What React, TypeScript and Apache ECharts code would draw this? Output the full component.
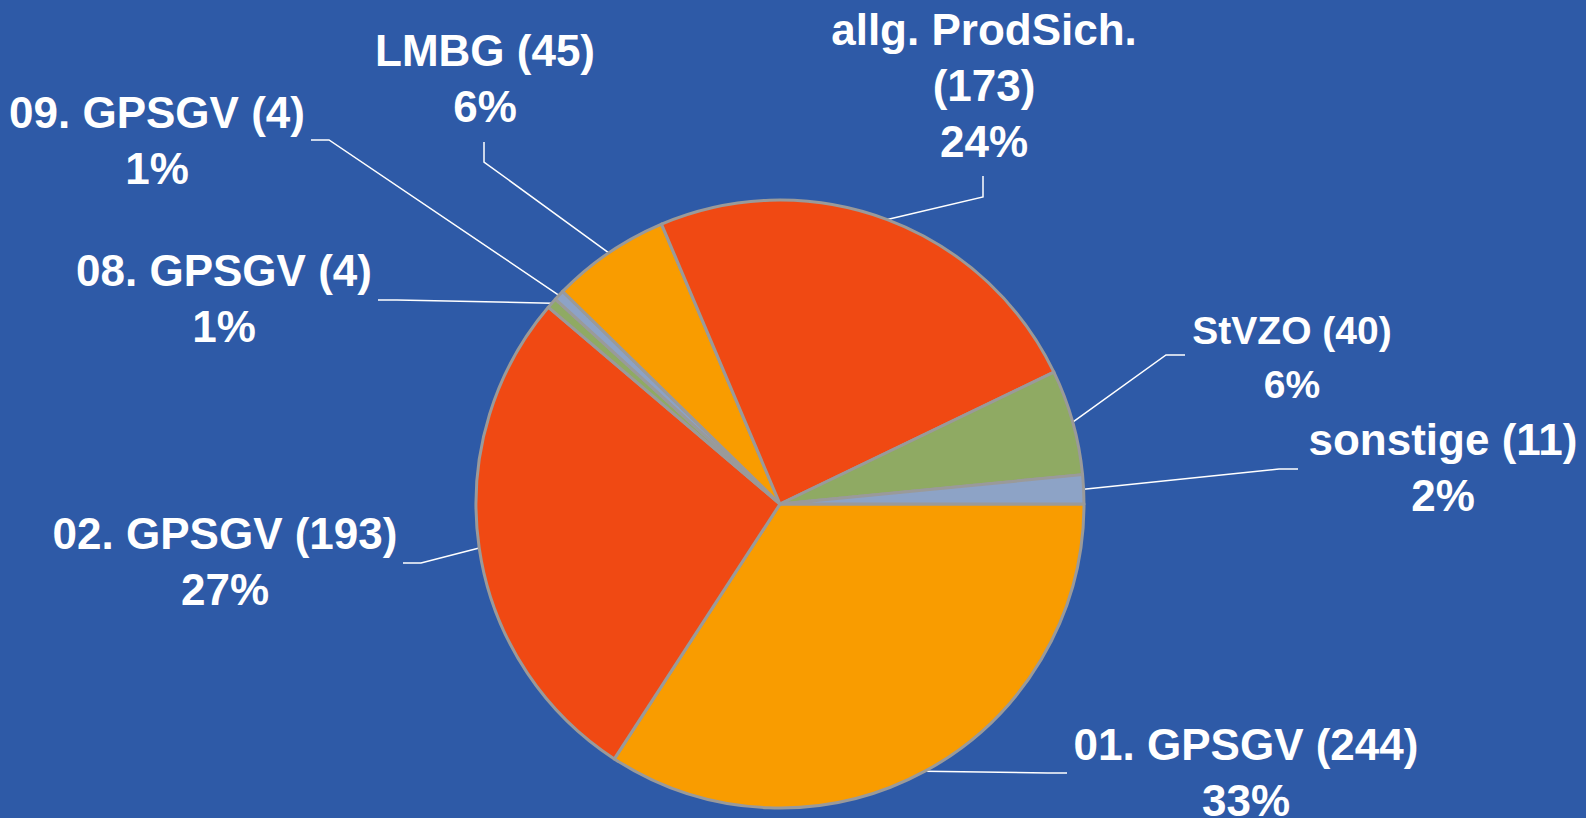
import React, { useEffect, useRef } from "react";
import * as echarts from "echarts";

const categories = ["01. GPSGV", "02. GPSGV", "08. GPSGV", "09. GPSGV", "LMBG", "allg. ProdSich.", "StVZO", "sonstige"];
const counts = [244, 193, 4, 4, 45, 173, 40, 11];
const pctLabels = ["33%", "27%", "1%", "1%", "6%", "24%", "6%", "2%"];
const sliceColors = ["#F99C00", "#F04913", "#8FAA63", "#8DA3C6", "#F99C00", "#F04913", "#8FAA63", "#8DA3C6"];

// label layout (pixel positions of label block centres and leader-line elbows)
const labelCenters = [
  [1246, 772], [225, 561], [224, 298], [157, 140], [485, 78], [984, 85], [1292, 357], [1443, 467],
];
const labelFontSizes = [44, 44, 44, 44, 44, 44, 39, 44];
const labelLineHeights = [56, 56, 56, 56, 56, 56, 54, 56];
const lineElbows = [
  [[1048, 773], [1067, 773]],
  [[421, 563], [403, 563]],
  [[397, 300], [378, 300]],
  [[329, 140], [311, 140]],
  [[484, 162], [484, 142]],
  [[983, 197], [983, 176]],
  [[1166, 355], [1185, 355]],
  [[1279, 469], [1298, 469]],
];

const CX = 780;
const CY = 504;
const R = 304;

export default function App() {
  const ref = useRef<HTMLDivElement>(null);
  useEffect(() => {
    if (!ref.current) return;
    const chart = echarts.init(ref.current, null, { renderer: "svg" });
    const total = counts.reduce((a, b) => a + b, 0);
    const data = categories.map((name, i) => ({
      name,
      value: counts[i],
      itemStyle: { color: sliceColors[i] },
      label: { fontSize: labelFontSizes[i], lineHeight: labelLineHeights[i] },
    }));
    chart.setOption({
      animation: false,
      backgroundColor: "#2E5AA7",
      series: [
        {
          type: "pie",
          center: [CX, CY],
          radius: [0, R],
          startAngle: 0,
          clockwise: true,
          avoidLabelOverlap: false,
          itemStyle: { borderColor: "#9A9A9A", borderWidth: 3 },
          emphasis: { disabled: true },
          label: {
            show: true,
            position: "outside",
            color: "#FFFFFF",
            fontSize: 44,
            fontWeight: "bold",
            fontFamily: "'Liberation Sans', Arial, sans-serif",
            lineHeight: 56,
            align: "center",
            formatter: (p: any) => {
              const i = p.dataIndex;
              const nm = categories[i];
              const head = nm.length > 12 ? `${nm}\n(${counts[i]})` : `${nm} (${counts[i]})`;
              return `${head}\n${pctLabels[i]}`;
            },
          },
          labelLine: {
            show: true,
            length: 20,
            length2: 20,
            smooth: false,
            lineStyle: { color: "#FFFFFF", width: 1.5 },
          },
          labelLayout: (params: any) => {
            const i = params.dataIndex;
            let start: number[];
            if (params.labelLinePoints && params.labelLinePoints[0]) {
              start = params.labelLinePoints[0];
            } else {
              let cum = 0;
              for (let k = 0; k < i; k++) cum += counts[k];
              const mid = ((cum + counts[i] / 2) / total) * Math.PI * 2;
              start = [CX + R * Math.cos(mid), CY + R * Math.sin(mid)];
            }
            return {
              x: labelCenters[i][0],
              y: labelCenters[i][1],
              align: "center",
              verticalAlign: "middle",
              labelLinePoints: [start, lineElbows[i][0], lineElbows[i][1]],
            };
          },
          data,
        },
      ],
    });
    return () => chart.dispose();
  }, []);
  return (
    <div
      ref={ref}
      style={{ position: "absolute", left: 0, top: 0, width: 1586, height: 818, background: "#2E5AA7" }}
    />
  );
}
